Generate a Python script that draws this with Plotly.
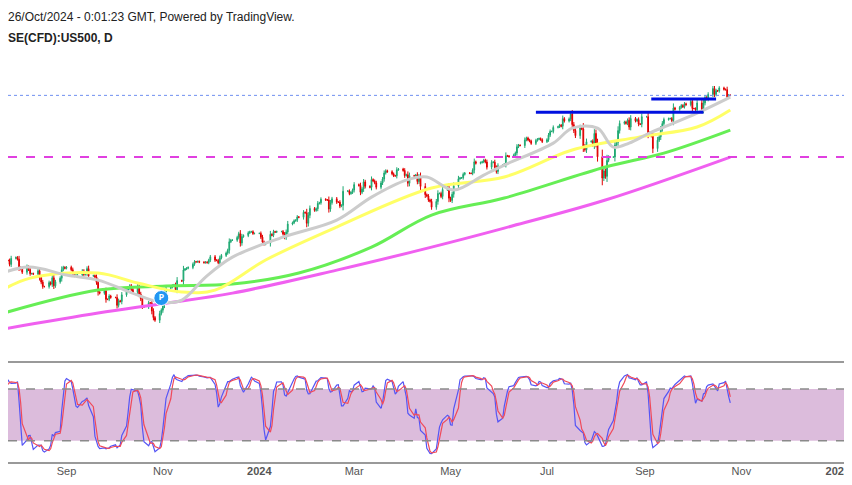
import numpy as np
import pandas as pd
import plotly.graph_objects as go
from plotly.subplots import make_subplots

# daily closes, 3 Jul 2023 .. 25 Oct 2024 (US500 CFD)
closes = [
    4455, 4446, 4411, 4399, 4399, 4409, 4439, 4472, 4510, 4505, 4522, 4555,
    4565, 4534, 4536, 4555, 4567, 4566, 4537, 4582, 4589,
    4576, 4513, 4502, 4478, 4518, 4499, 4467, 4468, 4464, 4489, 4437, 4404, 4370, 4370,
    4400, 4388, 4436, 4376, 4406, 4433, 4497, 4515, 4508,
    4516, 4497, 4465, 4451, 4457, 4458, 4487, 4461, 4468, 4505, 4450, 4453, 4443, 4402,
    4330, 4320, 4337, 4274, 4274, 4299, 4288,
    4288, 4229, 4263, 4258, 4308, 4336, 4358, 4376, 4349, 4327, 4373, 4314, 4278, 4224,
    4217, 4248, 4247, 4186, 4137, 4117, 4167, 4193,
    4238, 4318, 4358, 4366, 4378, 4383, 4347, 4415, 4412, 4495, 4502, 4508, 4514, 4538,
    4557, 4556, 4559, 4554, 4550, 4554, 4550, 4568,
    4594, 4569, 4567, 4549, 4586, 4604, 4622, 4643, 4707, 4719, 4719, 4740, 4768, 4698,
    4746, 4754, 4774, 4782, 4783, 4769, 4770,
    4770, 4742, 4705, 4689, 4697, 4763, 4756, 4783, 4780, 4784, 4784, 4766, 4740, 4781,
    4840, 4850, 4865, 4869, 4894, 4891, 4928, 4925, 4846,
    4906, 4958, 4943, 4955, 4995, 5000, 5027, 5022, 5021, 4953, 5001, 5030, 5005, 5005,
    4975, 4981, 5087, 5089, 5069, 5078, 5096,
    5137, 5130, 5079, 5104, 5157, 5124, 5117, 5175, 5165, 5150, 5117, 5149, 5179, 5224,
    5241, 5234, 5218, 5204, 5203, 5248, 5254,
    5243, 5205, 5211, 5147, 5204, 5202, 5209, 5160, 5199, 5123, 5061, 5051, 5022, 5011,
    4967, 5010, 5070, 5071, 5048, 5100, 5116, 5035,
    5018, 5064, 5128, 5181, 5187, 5188, 5214, 5223, 5222, 5221, 5246, 5308, 5297, 5303,
    5308, 5321, 5307, 5268, 5304, 5306, 5266, 5235, 5278,
    5283, 5291, 5354, 5352, 5347, 5360, 5375, 5421, 5433, 5431, 5473, 5487, 5473, 5464,
    5447, 5469, 5478, 5483, 5475, 5460,
    5475, 5509, 5537, 5537, 5567, 5572, 5584, 5576, 5633, 5615, 5631, 5667, 5588, 5544,
    5505, 5564, 5555, 5427, 5399, 5459, 5463, 5436, 5522,
    5446, 5346, 5186, 5240, 5199, 5319, 5344, 5344, 5434, 5455, 5543, 5597, 5608, 5597,
    5621, 5570, 5634, 5616, 5626, 5592, 5591, 5648,
    5648, 5528, 5520, 5503, 5408, 5471, 5496, 5554, 5596, 5626, 5633, 5634, 5618, 5713,
    5703, 5718, 5732, 5722, 5745, 5738, 5762,
    5709, 5709, 5700, 5751, 5696, 5751, 5792, 5780, 5815, 5859, 5815, 5843, 5841, 5864,
    5853, 5851, 5797, 5809, 5808,
]

ma20_dates = ["2023-07-19", "2023-08-08", "2023-09-01", "2023-09-21", "2023-10-11", "2023-10-30",
              "2023-11-13", "2023-11-28", "2023-12-15", "2024-01-16", "2024-02-19", "2024-03-12",
              "2024-04-03", "2024-04-16", "2024-05-03", "2024-05-22", "2024-06-04", "2024-07-05",
              "2024-07-17", "2024-08-02", "2024-08-12", "2024-08-22", "2024-09-04", "2024-09-13",
              "2024-10-04", "2024-10-25"]
ma20_vals = [4457, 4517, 4457, 4419, 4329, 4254, 4269, 4442, 4592, 4742, 4870, 5043, 5171, 5194,
             5096, 5209, 5284, 5449, 5562, 5562, 5419, 5449, 5525, 5570, 5675, 5795]
ma50_dates = ["2023-07-19", "2023-08-09", "2023-09-21", "2023-10-16", "2023-11-13", "2023-12-04",
              "2024-01-05", "2024-02-19", "2024-04-19", "2024-06-04", "2024-07-17", "2024-08-28",
              "2024-10-04", "2024-10-25"]
ma50_vals = [4321, 4434, 4472, 4397, 4329, 4344, 4570, 4818, 5111, 5194, 5397, 5494, 5570, 5698]
ma100_dates = ["2023-07-19", "2023-09-21", "2023-11-03", "2023-12-15", "2024-01-26", "2024-03-12",
               "2024-04-19", "2024-06-04", "2024-08-07", "2024-09-13", "2024-10-25"]
ma100_vals = [4156, 4344, 4374, 4389, 4472, 4667, 4908, 5036, 5269, 5374, 5547]
ma200_dates = ["2023-07-19", "2023-09-21", "2023-10-30", "2023-12-15", "2024-02-19", "2024-04-19",
               "2024-06-04", "2024-08-07", "2024-10-25"]
ma200_vals = [4043, 4171, 4239, 4321, 4494, 4667, 4810, 5021, 5344]

support_level = 5344
res1 = (["2024-06-24", "2024-10-08"], 5682)
res2 = (["2024-09-05", "2024-10-16"], 5780)

tick_dates = ["2023-09-01", "2023-11-01", "2024-01-01", "2024-03-01", "2024-05-01",
              "2024-07-01", "2024-09-01", "2024-11-01", "2025-01-01"]
tick_text = ["Sep", "Nov", "<b>2024</b>", "Mar", "May", "Jul", "Sep", "Nov", "<b>2025</b>"]

dates = pd.bdate_range(end="2024-10-25", periods=len(closes))
c = np.array(closes, dtype=float)
o = np.concatenate([[c[0]], c[:-1]])
wick = 0.3 * np.abs(c - o) + 6
h = np.maximum(o, c) + wick
l = np.minimum(o, c) - wick

# stochastic 14,3,3
hh = pd.Series(h).rolling(14).max()
ll = pd.Series(l).rolling(14).min()
raw = 100 * (pd.Series(c) - ll) / (hh - ll)
k = raw.rolling(3).mean()
d = k.rolling(3).mean()

STOCH_FRAC = 101 / 455
fig = make_subplots(rows=2, cols=1, shared_xaxes=True, vertical_spacing=0,
                    row_heights=[1 - STOCH_FRAC, STOCH_FRAC])

# stochastic band (drawn first, under the lines)
fig.add_shape(type="rect", xref="x2 domain", yref="y2", x0=0, x1=1, y0=20, y1=80,
              fillcolor="#dcbcdc", line_width=0, layer="below")
for lv in [20, 80]:
    fig.add_shape(type="line", xref="x2 domain", yref="y2", x0=0, x1=1, y0=lv, y1=lv,
                  line=dict(color="#8a8a8a", width=1.5, dash="dash"))

fig.add_trace(go.Scatter(x=ma200_dates, y=ma200_vals, mode="lines", line=dict(color="#f060f0", width=3, shape="spline")), 1, 1)
fig.add_trace(go.Scatter(x=ma100_dates, y=ma100_vals, mode="lines", line=dict(color="#66ee55", width=3, shape="spline")), 1, 1)
fig.add_trace(go.Scatter(x=ma50_dates, y=ma50_vals, mode="lines", line=dict(color="#ffff66", width=3, shape="spline")), 1, 1)
fig.add_trace(go.Scatter(x=ma20_dates, y=ma20_vals, mode="lines", line=dict(color="#cccccc", width=3, shape="spline")), 1, 1)

fig.add_trace(go.Candlestick(x=dates, open=o, high=h, low=l, close=c,
                             increasing=dict(line=dict(color="#1fa872", width=1), fillcolor="#22c080"),
                             decreasing=dict(line=dict(color="#e00000", width=1), fillcolor="#ff0000"),
                             whiskerwidth=0), 1, 1)

fig.add_trace(go.Scatter(x=res1[0], y=[res1[1]] * 2, mode="lines", line=dict(color="#0010e0", width=3)), 1, 1)
fig.add_trace(go.Scatter(x=res2[0], y=[res2[1]] * 2, mode="lines", line=dict(color="#0010e0", width=3)), 1, 1)

fig.add_trace(go.Scatter(x=["2023-10-31"], y=[4284], mode="markers+text", text=["<b>P</b>"],
                         textfont=dict(color="white", size=9),
                         marker=dict(size=15, color="#2196f3", line=dict(color="white", width=1))), 1, 1)

fig.add_shape(type="line", xref="x domain", yref="y", x0=0, x1=1, y0=support_level, y1=support_level,
              line=dict(color="#e040e0", width=2, dash="dash"))
fig.add_shape(type="line", xref="x domain", yref="y", x0=0, x1=1, y0=closes[-1], y1=closes[-1],
              line=dict(color="#6f8ff0", width=1, dash="dot"))

fig.add_trace(go.Scatter(x=dates, y=k, mode="lines", line=dict(color="#5555f5", width=1.2)), 2, 1)
fig.add_trace(go.Scatter(x=dates, y=d, mode="lines", line=dict(color="#f04a5a", width=1.2)), 2, 1)

for yy in [0, STOCH_FRAC]:
    fig.add_shape(type="line", xref="paper", yref="paper", x0=0, x1=1, y0=yy, y1=yy,
                  line=dict(color="#777777", width=1.5))

fig.update_xaxes(range=["2023-07-26", "2025-01-10"], showgrid=False, zeroline=False,
                 rangeslider_visible=False, automargin=False)
fig.update_xaxes(tickvals=tick_dates, ticktext=tick_text, ticks="", row=2, col=1,
                 tickfont=dict(family="Liberation Sans", size=11, color="#555555"))
fig.update_yaxes(showgrid=False, zeroline=False, showticklabels=False, automargin=False)
fig.update_yaxes(range=[3803, 6465], row=1, col=1)
fig.update_yaxes(range=[-5.8, 111.5], row=2, col=1)

fig.add_annotation(x=0, y=1, xref="paper", yref="paper", xanchor="left", yanchor="top", xshift=-2,
                   text="26/Oct/2024 - 0:01:23 GMT, Powered by TradingView.", showarrow=False,
                   font=dict(family="Liberation Sans", size=12, color="#222222"))
fig.add_annotation(x=0, y=1, xref="paper", yref="paper", xanchor="left", yanchor="top", xshift=-2,
                   yshift=-21, text="<b>SE(CFD):US500, D</b>", showarrow=False,
                   font=dict(family="Liberation Sans", size=12, color="#222222"))

fig.update_layout(width=844, height=477, margin=dict(l=0, r=0, t=0, b=22), showlegend=False,
                  plot_bgcolor="white", paper_bgcolor="white")

fig.write_html("out.html")
